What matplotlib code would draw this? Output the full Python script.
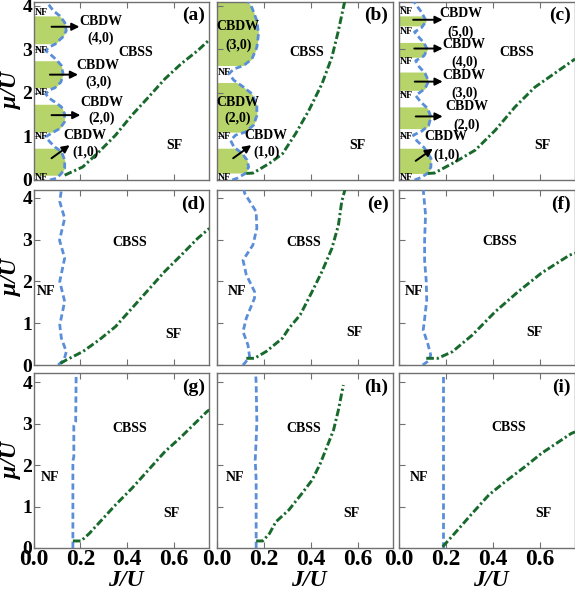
import numpy as np
import matplotlib
matplotlib.use("Agg")
import matplotlib.pyplot as plt

plt.rcParams['font.family'] = ['Liberation Serif', 'DejaVu Serif']
plt.rcParams['font.weight'] = 'bold'
plt.rcParams['lines.scale_dashes'] = False

# ---------------- data (J/U, mu/U) ----------------
panel_names = ['a', 'b', 'c', 'd', 'e', 'f', 'g', 'h', 'i']

# NF boundary (blue dashed)
a_blue_mu = [0.0, 0.04, 0.15, 0.27, 0.46, 0.65, 0.76, 0.88, 0.99, 1.07, 1.18, 1.33, 1.52, 1.68, 1.79, 1.89, 1.98,
             2.06, 2.12, 2.25, 2.44, 2.63, 2.76, 2.90, 2.97, 3.05, 3.12, 3.28, 3.43, 3.62, 3.77, 3.89, 4.10]
a_blue_J = [0.070, 0.098, 0.119, 0.133, 0.133, 0.119, 0.091, 0.069, 0.052, 0.075, 0.112, 0.132, 0.133, 0.119, 0.091,
            0.064, 0.052, 0.066, 0.092, 0.117, 0.126, 0.119, 0.098, 0.069, 0.052, 0.066, 0.092, 0.124, 0.140, 0.133,
            0.112, 0.084, 0.055]
b_blue_mu = [0.0, 0.04, 0.15, 0.30, 0.46, 0.61, 0.76, 0.91, 1.03, 1.10, 1.26, 1.48, 1.71, 1.98, 2.13, 2.29, 2.44,
             2.55, 2.63, 2.78, 3.05, 3.35, 3.66, 3.96, 4.10]
b_blue_J = [0.065, 0.086, 0.121, 0.135, 0.128, 0.107, 0.072, 0.058, 0.079, 0.121, 0.156, 0.170, 0.170, 0.149, 0.114,
            0.072, 0.051, 0.072, 0.114, 0.149, 0.170, 0.177, 0.170, 0.149, 0.132]
c_blue_mu = [0.0, 0.05, 0.15, 0.3, 0.5, 0.75, 0.9, 1.03, 1.12, 1.25, 1.45, 1.65, 1.8, 1.94, 2.1, 2.27, 2.45, 2.6,
             2.74, 2.85, 3.0, 3.15, 3.3, 3.4, 3.5, 3.65, 3.85, 4.10]
c_blue_J = [0.065, 0.09, 0.12, 0.135, 0.135, 0.105, 0.075, 0.06, 0.095, 0.125, 0.135, 0.12, 0.09, 0.07, 0.11, 0.125,
            0.11, 0.085, 0.07, 0.105, 0.12, 0.105, 0.08, 0.065, 0.095, 0.115, 0.095, 0.062]
d_blue_mu = [0.0, 0.12, 0.32, 0.64, 0.96, 1.52, 2.0, 2.56, 2.99, 3.51, 3.91, 4.2]
d_blue_J = [0.105, 0.13, 0.14, 0.119, 0.112, 0.133, 0.112, 0.133, 0.111, 0.133, 0.112, 0.119]
e_blue_mu = [0.0, 0.04, 0.2, 0.48, 0.8, 1.12, 1.6, 1.76, 2.16, 2.51, 2.87, 3.27, 3.67, 4.11, 4.2]
e_blue_J = [0.11, 0.118, 0.139, 0.132, 0.111, 0.125, 0.16, 0.16, 0.125, 0.111, 0.153, 0.17, 0.167, 0.118, 0.115]
f_blue_mu = [0.0, 0.1, 0.24, 0.5, 0.84, 1.1, 1.56, 2.0, 2.5, 3.0, 3.6, 4.2]
f_blue_J = [0.10, 0.125, 0.134, 0.122, 0.102, 0.108, 0.117, 0.115, 0.108, 0.108, 0.112, 0.102]
g_blue_mu = [0.0, 2.1, 2.2, 2.95, 3.05, 4.22]
g_blue_J = [0.168, 0.168, 0.172, 0.172, 0.180, 0.182]
h_blue_mu = [0.0, 1.64, 2.12, 2.6, 3.04, 3.97, 4.22]
h_blue_J = [0.167, 0.167, 0.163, 0.167, 0.170, 0.167, 0.165]
i_blue_mu = [0.0, 4.22]
i_blue_J = [0.185, 0.185]

# SF boundary (green dash-dot)
a_green_J = [0.133, 0.153, 0.21, 0.25, 0.28, 0.35, 0.42, 0.49, 0.56, 0.63, 0.70, 0.75]
a_green_mu = [0.11, 0.16, 0.30, 0.50, 0.65, 1.03, 1.49, 1.90, 2.32, 2.67, 2.97, 3.22]
b_green_J = [0.125, 0.154, 0.223, 0.279, 0.336, 0.392, 0.448, 0.49, 0.518, 0.539, 0.545]
b_green_mu = [0.15, 0.16, 0.38, 0.60, 1.07, 1.60, 2.21, 2.82, 3.43, 3.96, 4.10]
c_green_J = [0.122, 0.15, 0.24, 0.325, 0.409, 0.494, 0.578, 0.66, 0.75]
c_green_mu = [0.15, 0.16, 0.42, 0.69, 1.14, 1.68, 2.13, 2.44, 2.78]
d_green_J = [0.115, 0.14, 0.21, 0.28, 0.35, 0.42, 0.49, 0.56, 0.63, 0.70, 0.75]
d_green_mu = [0.04, 0.12, 0.32, 0.60, 0.92, 1.36, 1.80, 2.24, 2.63, 3.03, 3.27]
e_green_J = [0.125, 0.16, 0.209, 0.279, 0.307, 0.355, 0.406, 0.448, 0.49, 0.518, 0.532, 0.546]
e_green_mu = [0.16, 0.16, 0.32, 0.64, 0.88, 1.2, 1.76, 2.24, 2.79, 3.35, 3.91, 4.2]
f_green_J = [0.115, 0.164, 0.227, 0.312, 0.41, 0.508, 0.606, 0.726, 0.75]
f_green_mu = [0.16, 0.16, 0.32, 0.72, 1.28, 1.76, 2.2, 2.63, 2.68]
g_green_J = [0.168, 0.203, 0.238, 0.35, 0.42, 0.49, 0.56, 0.63, 0.74, 0.75]
g_green_mu = [0.17, 0.17, 0.35, 1.04, 1.44, 1.88, 2.32, 2.68, 3.29, 3.33]
h_green_J = [0.167, 0.195, 0.224, 0.251, 0.307, 0.363, 0.406, 0.441, 0.469, 0.497, 0.518, 0.539]
h_green_mu = [0.17, 0.17, 0.35, 0.63, 0.92, 1.32, 1.64, 2.04, 2.44, 2.84, 3.33, 3.93]
i_green_J = [0.185, 0.242, 0.312, 0.382, 0.452, 0.536, 0.606, 0.733, 0.75]
i_green_mu = [0.03, 0.39, 0.84, 1.28, 1.6, 1.96, 2.28, 2.76, 2.80]

# CBDW lobes (mu ranges)
a_lobes = [(0.11, 0.73), (1.10, 1.74), (2.12, 2.74), (3.13, 3.77)]
b_lobes = [(0.16, 0.73), (1.10, 2.24), (2.63, 4.10)]
c_lobes = [(0.15, 0.73), (1.18, 1.68), (2.06, 2.48), (2.82, 3.16), (3.54, 3.77)]

# region label positions
cbss_pos = [(0.436, 2.93), (0.383, 2.93), (0.50, 2.93), (0.41, 2.93), (0.37, 2.93), (0.43, 2.95),
            (0.41, 2.89), (0.37, 2.89), (0.466, 2.90)]
sf_pos = [(0.60, 0.80), (0.598, 0.80), (0.61, 0.80), (0.596, 0.72), (0.588, 0.77), (0.576, 0.77),
          (0.59, 0.84), (0.573, 0.84), (0.613, 0.84)]
nf_big_pos = {'d': (0.053, 1.75), 'e': (0.086, 1.75), 'f': (0.062, 1.75),
              'g': (0.07, 1.71), 'h': (0.076, 1.71), 'i': (0.083, 1.71)}
nf_small_mu = {'a': [0.06, 1.0, 2.0, 2.98, 3.84],
               'b': [0.06, 1.01, 2.48],
               'c': [0.06, 1.01, 1.95, 2.72, 3.41, 3.87]}
# CBDW labels: (index text, J, mu of "CBDW", mu of index, arrow start, arrow end)
cbdw_labels = {
    'a': [('(4,0)', 0.287, 3.63, 3.26, (0.077, 3.52), (0.196, 3.52)),
          ('(3,0)', 0.276, 2.63, 2.24, (0.070, 2.42), (0.190, 2.42)),
          ('(2,0)', 0.290, 1.79, 1.42, (0.077, 1.49), (0.200, 1.49)),
          ('(1,0)', 0.220, 1.03, 0.64, (0.077, 0.50), (0.154, 0.80))],
    'b': [('(3,0)', 0.090, 3.52, 3.09, None, None),
          ('(2,0)', 0.090, 1.79, 1.42, None, None),
          ('(1,0)', 0.210, 1.03, 0.64, (0.069, 0.50), (0.146, 0.80))],
    'c': [('(5,0)', 0.263, 3.82, 3.39, (0.059, 3.68), (0.185, 3.68)),
          ('(4,0)', 0.277, 3.12, 2.70, (0.064, 3.02), (0.185, 3.02)),
          ('(3,0)', 0.277, 2.40, 1.99, (0.066, 2.26), (0.185, 2.26)),
          ('(2,0)', 0.287, 1.68, 1.26, (0.070, 1.46), (0.185, 1.46)),
          ('(1,0)', 0.200, 0.99, 0.57, (0.070, 0.44), (0.143, 0.72))],
}

xticks = [0.0, 0.2, 0.4, 0.6]
xticklabels = ['0.0', '0.2', '0.4', '0.6']
yticks = [0, 1, 2, 3, 4]

# ---------------- style ----------------
BLUE = '#5b8ed8'
GREEN = '#17692c'
FILL = '#b6d46a'
SPINE = '#707070'

blue_data = {'a': (a_blue_J, a_blue_mu), 'b': (b_blue_J, b_blue_mu), 'c': (c_blue_J, c_blue_mu),
             'd': (d_blue_J, d_blue_mu), 'e': (e_blue_J, e_blue_mu), 'f': (f_blue_J, f_blue_mu),
             'g': (g_blue_J, g_blue_mu), 'h': (h_blue_J, h_blue_mu), 'i': (i_blue_J, i_blue_mu)}
green_data = {'a': (a_green_J, a_green_mu), 'b': (b_green_J, b_green_mu), 'c': (c_green_J, c_green_mu),
              'd': (d_green_J, d_green_mu), 'e': (e_green_J, e_green_mu), 'f': (f_green_J, f_green_mu),
              'g': (g_green_J, g_green_mu), 'h': (h_green_J, h_green_mu), 'i': (i_green_J, i_green_mu)}
lobe_data = {'a': a_lobes, 'b': b_lobes, 'c': c_lobes}

W, H = 575, 589
fig = plt.figure(figsize=(W / 100, H / 100), dpi=100)

col_left = [33.5, 217.0, 399.3]
col_w = 175.8
row_tb = [(1.5, 180.0), (190.0, 365.0), (373.0, 548.0)]
ylims = [(0, 4.10), (0, 4.19), (0, 4.22)]

for k, name in enumerate(panel_names):
    r, c = divmod(k, 3)
    top, bot = row_tb[r]
    ax = fig.add_axes([col_left[c] / W, 1 - bot / H, col_w / W, (bot - top) / H])
    ax.set_xlim(0, 0.75)
    ax.set_ylim(*ylims[r])

    bJ, bmu = blue_data[name]
    # CBDW lobes filled up to the NF boundary
    for lo, hi in lobe_data.get(name, []):
        yy = np.linspace(lo, hi, 60)
        xx = np.interp(yy, bmu, bJ)
        ax.fill_betweenx(yy, 0, xx, color=FILL, lw=0, zorder=1)

    ln, = ax.plot(bJ, bmu, color=BLUE, lw=2.0, zorder=3)
    ln.set_dashes((4.5, 2.5))
    gJ, gmu = green_data[name]
    ln2, = ax.plot(gJ, gmu, color=GREEN, lw=2.1, zorder=3)
    ln2.set_dashes((5.5, 2.0, 1.6, 2.0))

    ax.text(cbss_pos[k][0], cbss_pos[k][1], 'CBSS', fontsize=10, fontweight='bold', ha='center', va='center')
    ax.text(sf_pos[k][0], sf_pos[k][1], 'SF', fontsize=10, fontweight='bold', ha='center', va='center')
    if name in nf_big_pos:
        ax.text(nf_big_pos[name][0], nf_big_pos[name][1], 'NF', fontsize=10, fontweight='bold',
                ha='center', va='center')
    for m in nf_small_mu.get(name, []):
        ax.text(0.004, m, 'NF', fontsize=7, fontweight='bold', ha='left', va='center', zorder=5)
    for (idx, xj, m1, m2, a0, a1) in cbdw_labels.get(name, []):
        ax.text(xj, m1, 'CBDW', fontsize=10, fontweight='bold', ha='center', va='center', zorder=5)
        ax.text(xj, m2, idx, fontsize=10, fontweight='bold', ha='center', va='center', zorder=5)
        if a0 is not None:
            ax.annotate('', xy=a1, xytext=a0,
                        arrowprops=dict(arrowstyle='-|>', color='black', lw=1.4, mutation_scale=11,
                                        shrinkA=0, shrinkB=0), zorder=6)

    ax.text(0.975, 0.92, '(%s)' % name, transform=ax.transAxes, fontsize=14, fontweight='bold',
            ha='right', va='center')

    ax.set_xticks(xticks)
    ax.set_yticks(yticks)
    ax.tick_params(direction='in', length=4, width=0.8, color=SPINE, top=True, right=False)
    ax.tick_params(axis='x', labelsize=17, pad=1)
    ax.tick_params(axis='y', labelsize=14, pad=1)
    if r == 2:
        ax.set_xticklabels(xticklabels, fontweight='bold')
    else:
        ax.set_xticklabels([])
    if c == 0:
        ax.set_yticklabels([str(v) for v in yticks], fontweight='bold')
    else:
        ax.set_yticklabels([])
    for s in ax.spines.values():
        s.set_color(SPINE)
        s.set_linewidth(1.0)

# axis labels
for r in range(3):
    top, bot = row_tb[r]
    fig.text(11.5 / W, 1 - (top + bot) / 2 / H, '\u03bc/U', rotation=90, fontsize=17, fontweight='bold',
             fontstyle='italic', ha='center', va='center')
for c in range(3):
    fig.text((col_left[c] + col_w / 2 + 4) / W, 1 - 580 / H, 'J/U', fontsize=17, fontweight='bold',
             fontstyle='italic', ha='center', va='center')

fig.savefig('out.png', dpi=100)
